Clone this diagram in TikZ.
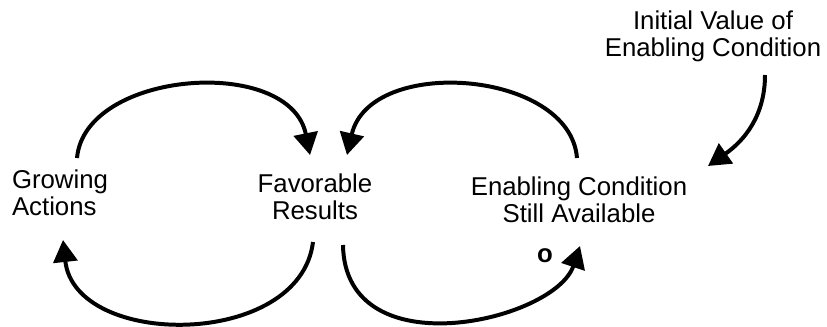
\documentclass[tikz,border=0pt]{standalone}
\usepackage{fontspec}
\setmainfont{Liberation Sans}
\usetikzlibrary{arrows.meta}

\begin{document}
\begin{tikzpicture}[x=0.03cm, y=-0.03cm,
    var/.style={inner sep=0pt, font=\fontsize{22}{23}\selectfont},
    link/.style={line width=3.4pt, -{Triangle[length=0.66cm,width=0.72cm]}}]
      \useasboundingbox (0, 0) rectangle (827, 326);

      \node[var, align=left] (G) at (60, 193) {Growing\\Actions};
      \node[var, align=center] (F) at (315, 197) {Favorable\\Results};
      \node[var, align=center] (E) at (579, 200) {Enabling Condition\\Still Available};
      \node[var, align=center] (I) at (713, 36) {Initial Value of\\Enabling Condition};
      \node[var, font=\fontsize{22}{23}\selectfont\bfseries] (o) at (545, 256) {o};

      \draw[link] ([shift={(17,-35)}]G.center) .. controls +(8,-88) and +(-20,-100) .. ([shift={(-5,-42)}]F.center);
      \draw[link] ([shift={(-2,45)}]F.center) .. controls +(-13,107) and +(12,109) .. ([shift={(3,47)}]G.center);
      \draw[link] ([shift={(-2,-42)}]E.center) .. controls +(-7,-88) and +(23,-100) .. ([shift={(32,-42)}]F.center);
      \draw[link] ([shift={(28,48)}]F.center) .. controls +(2,125) and +(-25,75) .. ([shift={(1,46)}]E.center);
      \draw[link] ([shift={(52,39)}]I.center) .. controls +(0,40) and +(37,-26) .. ([shift={(129,-34)}]E.center);
    \end{tikzpicture}
\end{document}
